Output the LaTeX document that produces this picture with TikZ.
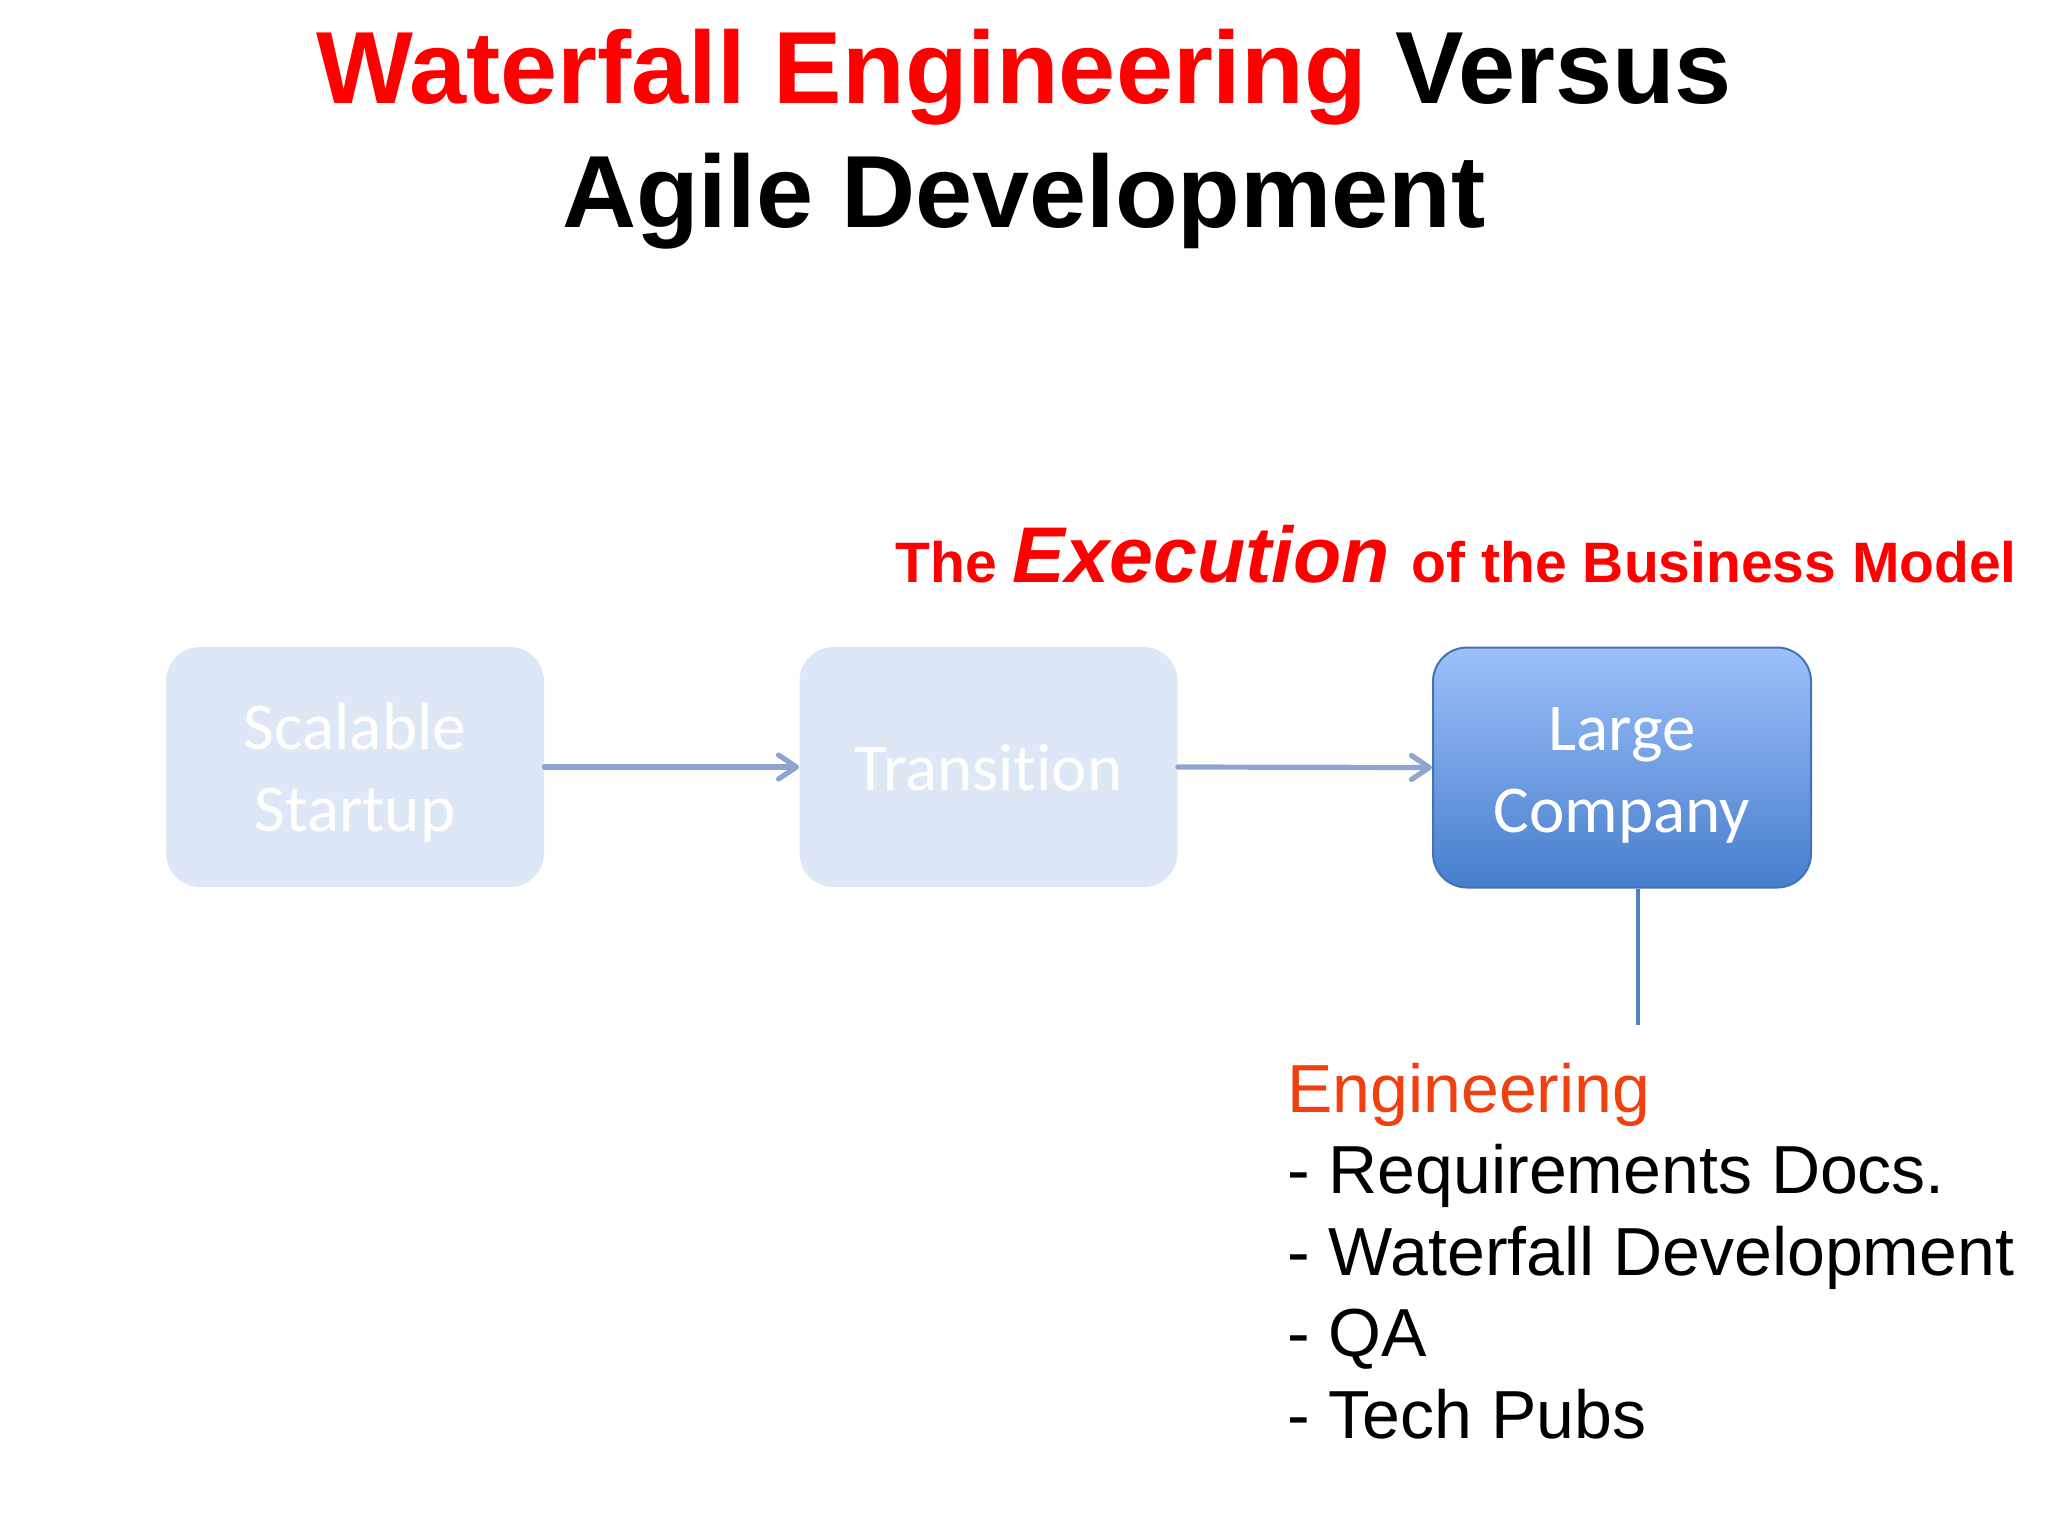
\documentclass[tikz,border=0pt]{standalone}
\usepackage{fontspec}
\setmainfont{Liberation Sans}
\newfontfamily\boxfont[Ligatures=NoCommon]{Carlito}
\usetikzlibrary{arrows.meta}
\definecolor{titlered}{RGB}{255,0,0}
\definecolor{paleblue}{RGB}{222,231,245}
\definecolor{boxtop}{RGB}{157,192,250}
\definecolor{boxbot}{RGB}{70,126,204}
\definecolor{boxedge}{RGB}{68,114,180}
\definecolor{arrowc}{RGB}{143,165,208}
\definecolor{linec}{RGB}{79,129,189}
\definecolor{engorange}{RGB}{240,64,16}
\newcommand\stagetop{\rule{0pt}{30pt}}
\newcommand\stagebot{\rule[-6.5pt]{0pt}{6.5pt}}
\tikzset{
  stagebox/.style={rectangle, rounded corners=17pt, minimum width=189pt, minimum height=120pt,
    inner sep=0pt, align=center, text=white, font=\boxfont\fontsize{33.5}{41}\selectfont},
  palebox/.style={stagebox, fill=paleblue},
  activebox/.style={stagebox, draw=boxedge, line width=1pt, top color=boxtop, bottom color=boxbot},
  flowarrow/.style={draw=arrowc, line width=2.6pt, line cap=round,
    -{Straight Barb[length=9pt,width=12pt,line cap=round,line join=round]}},
  listline/.style={anchor=base west, inner sep=0pt, font=\fontsize{34}{40}\selectfont},
  titleline/.style={anchor=base, inner sep=0pt, font=\bfseries\fontsize{51.3}{60}\selectfont},
}
\begin{document}
\begin{tikzpicture}[x=0.5pt,y=-0.5pt]
\useasboundingbox (0,0) rectangle (2048,1536);
\node[titleline] (t1) at (1024,104)
  {\textcolor{titlered}{Waterfall Engineering} Versus};
\node[titleline] (t2) at (1024,227)
  {Agile Development};
\node[anchor=base west, inner sep=0pt, text=titlered, font=\bfseries\fontsize{28.5}{34}\selectfont] (exec) at (895,582)
  {The {\itshape\fontsize{39.5}{44}\selectfont Execution}\hspace{3pt} of the Business Model};
\node[palebox] (b1) at (355,767) {\stagetop Scalable\\Startup\stagebot};
\node[palebox] (b2) at (988.5,767) {\stagetop Transition\stagebot};
\node[activebox] (b3) at (1622,767.5) {\stagetop Large\\Company\stagebot};
\draw[flowarrow] (b1.east) -- (b2.west);
\draw[flowarrow] (b2.east) -- (b3.west);
\coordinate (lend) at (1638,1025);
\draw[linec, line width=2pt] (lend |- b3.south) -- (lend);
\node[listline, text=engorange] (l0) at (1287,1112) {Engineering};
\node[listline] (l1) at (1287,1193) {- Requirements Docs.};
\node[listline] (l2) at (1287,1275) {- Waterfall Development};
\node[listline] (l3) at (1287,1356) {- QA};
\node[listline] (l4) at (1287,1438) {- Tech Pubs};
\end{tikzpicture}
\end{document}
